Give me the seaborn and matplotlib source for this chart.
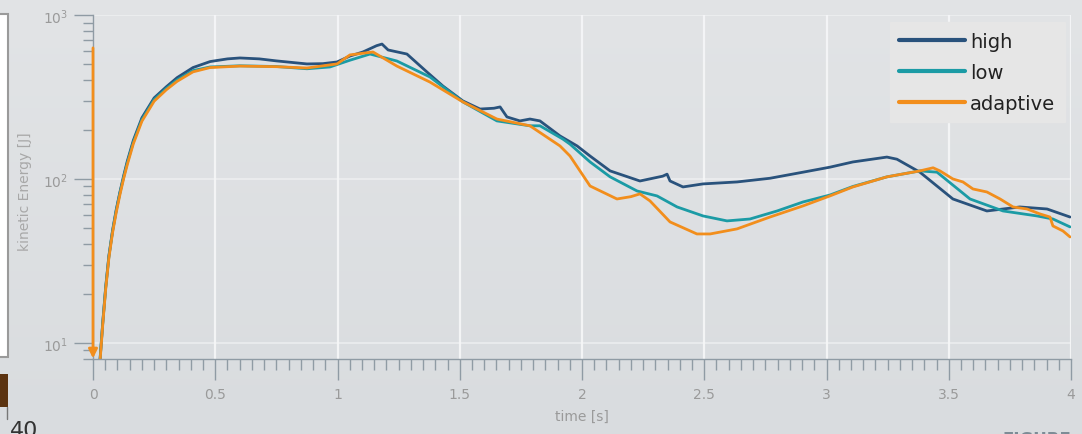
import numpy as np
import pandas as pd
import matplotlib
matplotlib.use("Agg")
import matplotlib.pyplot as plt
import seaborn as sns
from matplotlib.ticker import (MultipleLocator, FixedLocator, FormatStrFormatter,
                               NullFormatter, LogLocator)
from matplotlib.patches import Rectangle
from matplotlib.lines import Line2D
from matplotlib.colors import LinearSegmentedColormap

# ---------------- data ----------------
series_names = ["high", "low", "adaptive"]

t_high = [0.029, 0.040, 0.052, 0.065, 0.080, 0.095, 0.110, 0.125, 0.140, 0.165, 0.200, 0.250,
          0.300, 0.344, 0.409, 0.479, 0.550, 0.601, 0.680, 0.750, 0.875, 0.940, 0.998, 1.051,
          1.104, 1.160, 1.182, 1.207, 1.284, 1.366, 1.431, 1.513, 1.583, 1.640, 1.665, 1.693,
          1.746, 1.787, 1.828, 1.910, 1.980, 2.033, 2.115, 2.237, 2.330, 2.348, 2.360, 2.413,
          2.495, 2.634, 2.769, 2.904, 3.014, 3.108, 3.247, 3.288, 3.382, 3.517, 3.656, 3.791,
          3.902, 3.996]
e_high = [8.0, 13.4, 22, 34, 48.5, 65, 83, 104, 128, 172, 236, 312,
          365, 415, 478, 520, 540, 547, 540, 525, 503, 505, 517, 562,
          595, 650, 665, 612, 578, 449, 369, 299, 267, 270, 275, 239,
          226, 232, 226, 183, 159, 138, 112, 97.2, 104, 107, 97.2, 89.4,
          93.3, 95.9, 101, 110, 118, 127, 136, 132, 110, 75.5, 63.8, 67.5,
          65.6, 58.6]

t_low = [0.029, 0.040, 0.052, 0.065, 0.080, 0.095, 0.110, 0.125, 0.140, 0.165, 0.200, 0.250,
         0.300, 0.344, 0.409, 0.479, 0.601, 0.750, 0.875, 0.969, 1.051, 1.133, 1.243, 1.378,
         1.513, 1.652, 1.787, 1.828, 1.922, 1.951, 2.033, 2.115, 2.225, 2.307, 2.389, 2.495,
         2.593, 2.687, 2.798, 2.904, 3.014, 3.108, 3.247, 3.382, 3.452, 3.587, 3.722, 3.861,
         3.926, 3.996]
e_low = [8.0, 13.3, 21.8, 33.6, 48, 64, 82, 102, 125, 168, 230, 305,
         357, 402, 458, 482, 490, 485, 470, 482, 530, 578, 524, 419,
         295, 226, 211, 211, 175, 163, 127, 103, 84.5, 78.8, 67.5, 59.5,
         55.5, 57.0, 63.8, 72.4, 79.8, 90, 103, 112, 110, 75.5, 63.8, 59.5,
         57.0, 51.0]

t_adaptive = [0.029, 0.040, 0.052, 0.065, 0.080, 0.095, 0.110, 0.125, 0.140, 0.165, 0.200, 0.250,
              0.300, 0.344, 0.409, 0.479, 0.601, 0.750, 0.875, 0.998, 1.051, 1.145, 1.243, 1.378,
              1.513, 1.652, 1.787, 1.910, 1.951, 2.033, 2.143, 2.200, 2.237, 2.278, 2.360, 2.470,
              2.524, 2.634, 2.769, 2.904, 3.014, 3.108, 3.247, 3.382, 3.436, 3.464, 3.517, 3.558,
              3.599, 3.656, 3.710, 3.763, 3.820, 3.873, 3.914, 3.926, 3.967, 3.996]
e_adaptive = [7.8, 13.0, 21.3, 33, 47, 62.5, 80, 100, 122, 164, 225, 298,
              350, 394, 450, 478, 488, 484, 475, 503, 571, 595, 488, 390,
              295, 232, 211, 159, 138, 90.6, 75.5, 78, 81.1, 73.5, 54.7, 46.2,
              46.2, 49.6, 58.6, 68.5, 78.8, 89.4, 103, 112, 117, 112, 100, 95.9,
              86.9, 83.3, 75.5, 67.5, 65.6, 61.2, 58.6, 51.7, 48.2, 44.3]

# start marker of the adaptive run, drawn as a downward arrow at t = 0
adaptive_start_energy = 630

x_ticks = [0, 0.5, 1, 1.5, 2, 2.5, 3, 3.5, 4]

# ---------------- styling ----------------
colors = {"high": "#29527c", "low": "#1b9ba5", "adaptive": "#f28e1c"}
axis_gray = "#8f9ba4"
label_gray = "#9a9a9a"

sns.set_theme(style="white")
plt.rcParams["font.family"] = ["DejaVu Sans"]

frames = []
for name, t, e in [("high", t_high, e_high), ("low", t_low, e_low),
                   ("adaptive", t_adaptive, e_adaptive)]:
    frames.append(pd.DataFrame({"time": t, "energy": e, "run": name}))
df = pd.concat(frames, ignore_index=True)

fig = plt.figure(figsize=(10.82, 4.35), dpi=100)

# soft gray backdrop
bg = fig.add_axes([0, 0, 1, 1], zorder=-10)
grad = np.linspace(0, 1, 256).reshape(-1, 1)
cmap_bg = LinearSegmentedColormap.from_list("bg", ["#e2e4e6", "#d9dcdf"])
bg.imshow(grad, aspect="auto", cmap=cmap_bg, extent=[0, 1, 0, 1])
bg.set_axis_off()

ax = fig.add_axes([93 / 1082, 1 - 360 / 435, 978 / 1082, 344 / 435])
ax.set_facecolor("none")

sns.lineplot(data=df, x="time", y="energy", hue="run", hue_order=series_names,
             palette=colors, estimator=None, sort=True, linewidth=2.0, ax=ax)

ax.set_yscale("log")
ax.set_xlim(0, 4)
ax.set_ylim(7.98, 1000)

ax.annotate("", xy=(0, 8.05), xytext=(0, adaptive_start_energy),
            arrowprops=dict(arrowstyle="-|>", color=colors["adaptive"], lw=2.0,
                            mutation_scale=13, shrinkA=0, shrinkB=0),
            annotation_clip=False, zorder=5)

# axes, ticks, grid
for side in ["top", "right"]:
    ax.spines[side].set_visible(False)
for side in ["left", "bottom"]:
    ax.spines[side].set_color(axis_gray)
    ax.spines[side].set_linewidth(1.0)

ax.xaxis.set_major_locator(FixedLocator(x_ticks))
ax.xaxis.set_major_formatter(FormatStrFormatter("%g"))
ax.xaxis.set_minor_locator(MultipleLocator(0.05))
ax.yaxis.set_major_locator(LogLocator(base=10))
ax.yaxis.set_minor_locator(LogLocator(base=10, subs=np.arange(2, 10)))
ax.yaxis.set_minor_formatter(NullFormatter())

ax.tick_params(which="both", bottom=True, left=True, top=False, right=False)
ax.tick_params(axis="x", which="major", direction="out", length=15, width=1,
               color=axis_gray, labelsize=10, labelcolor=label_gray, pad=5)
ax.tick_params(axis="x", which="minor", direction="out", length=8, width=1,
               color=axis_gray)
ax.tick_params(axis="y", which="major", direction="out", length=14, width=1,
               color=axis_gray, labelsize=10, labelcolor=label_gray, pad=4)
ax.tick_params(axis="y", which="minor", direction="out", length=7, width=1,
               color=axis_gray)

ax.grid(True, which="major", axis="x", color="#f6f7f8", linewidth=1.6, alpha=0.9)
ax.grid(True, which="major", axis="y", color="#f6f7f8", linewidth=1.2, alpha=0.6)

ax.set_xlabel("time [s]", fontsize=10, color=label_gray)
ax.set_ylabel("kinetic Energy [J]", fontsize=10, color="#a8a8a8")
ax.xaxis.set_label_coords(0.5, -0.145)
ax.yaxis.set_label_coords(-0.062, 0.49)

handles, labels = ax.get_legend_handles_labels()
leg = ax.legend(handles, labels, loc="upper right", bbox_to_anchor=(0.994, 0.98),
                borderaxespad=0, fontsize=14, frameon=True, fancybox=False,
                facecolor="#e6e6e6", edgecolor="#e6e6e6", framealpha=1,
                handlelength=3.4, handletextpad=0.25, labelspacing=0.62,
                borderpad=0.5)
for line in leg.get_lines():
    line.set_linewidth(3.0)
for txt in leg.get_texts():
    txt.set_color("#222222")

# neighbouring panel edges around the figure
fig.add_artist(Rectangle((-0.002, 1 - 358 / 435), 10 / 1082, 343 / 435,
                         transform=fig.transFigure, facecolor="white",
                         edgecolor="#9a9a9a", linewidth=1.5))
fig.add_artist(Rectangle((0, 1 - 408 / 435), 8 / 1082, 33 / 435,
                         transform=fig.transFigure, facecolor="#5b3310",
                         edgecolor="none"))
fig.add_artist(Line2D([7 / 1082, 7 / 1082], [1 - 408 / 435, 1 - 420 / 435],
                      transform=fig.transFigure, color="#777777", linewidth=1))
fig.text(10 / 1082, 1 - 421 / 435, "40", ha="left", va="top", fontsize=16,
         color="#333333")
fig.text(1002 / 1082, 1 - 431 / 435, "FIGURE", ha="left", va="top", fontsize=12,
         fontweight="bold", color="#7d8c96")

fig.savefig("out.png", dpi=100)
